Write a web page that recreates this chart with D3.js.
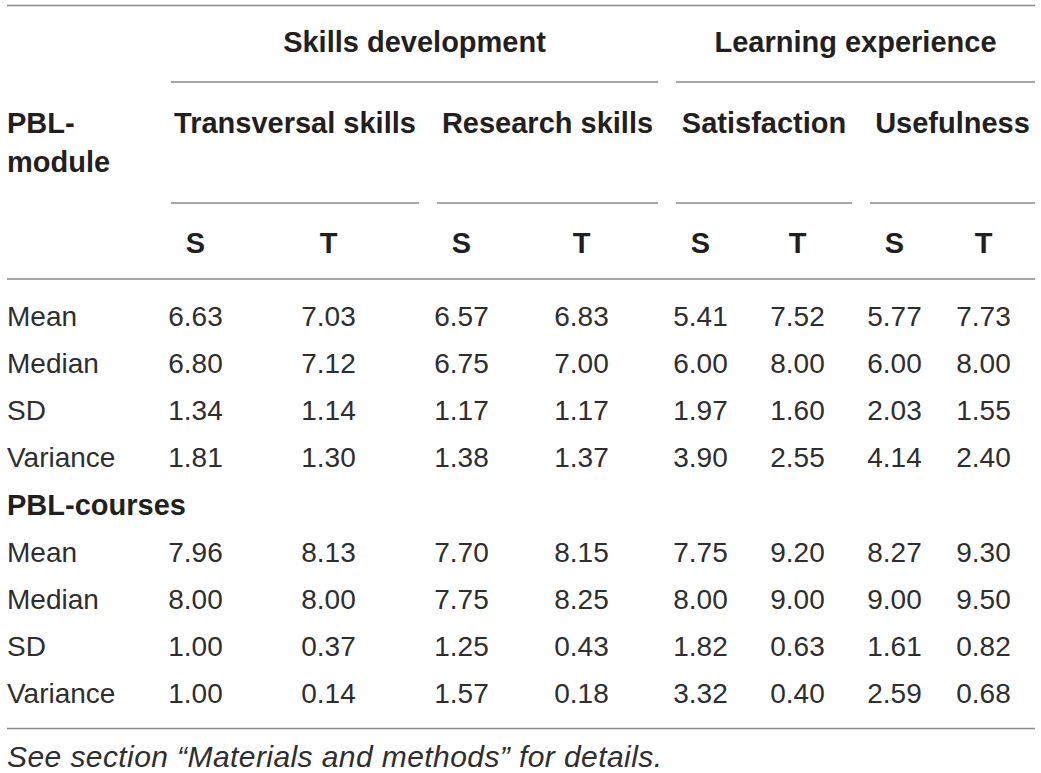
<!DOCTYPE html>
<html>
<head>
<meta charset="utf-8">
<script src="https://cdn.jsdelivr.net/npm/d3@7"></script>
<style>
body { margin: 0; background: #fff; }
svg { display: block; font-family: "Liberation Sans", Arial, Helvetica, sans-serif; }
</style>
</head>
<body>
<div id="table"></div>
<script>
// Table content
const groups = ["Skills development", "Learning experience"];
const subgroups = ["Transversal skills", "Research skills", "Satisfaction", "Usefulness"];
const raters = ["S", "T"];
const stats = ["Mean", "Median", "SD", "Variance"];
const sections = ["PBL-module", "PBL-courses"];
const moduleValues = [
  ["6.63", "7.03", "6.57", "6.83", "5.41", "7.52", "5.77", "7.73"],
  ["6.80", "7.12", "6.75", "7.00", "6.00", "8.00", "6.00", "8.00"],
  ["1.34", "1.14", "1.17", "1.17", "1.97", "1.60", "2.03", "1.55"],
  ["1.81", "1.30", "1.38", "1.37", "3.90", "2.55", "4.14", "2.40"]
];
const coursesValues = [
  ["7.96", "8.13", "7.70", "8.15", "7.75", "9.20", "8.27", "9.30"],
  ["8.00", "8.00", "7.75", "8.25", "8.00", "9.00", "9.00", "9.50"],
  ["1.00", "0.37", "1.25", "0.43", "1.82", "0.63", "1.61", "0.82"],
  ["1.00", "0.14", "1.57", "0.18", "3.32", "0.40", "2.59", "0.68"]
];
const footnote = "See section \u201cMaterials and methods\u201d for details.";

(function() {
const W = 1041, H = 773;
const left = 7, right = 1035;
const colStart = 168;
const colWidths = [133, 133, 120, 119, 97, 97, 89, 79];
const colLefts = [colStart, ...Array.from(d3.cumsum(colWidths), d => colStart + d)];
const textW = 55;          // width of a number like "6.63"
const fs = 28, fsBold = 29;
const ink = "#231f20", body = "#2e2e2e", rule = "#8a8a8a";

const svg = d3.select("#table").append("svg")
  .attr("width", W).attr("height", H);

// rows: section 1 stats, section 2 label, section 2 stats
const rows = [];
stats.forEach((s, i) => rows.push({ label: s, values: moduleValues[i] }));
rows.push({ label: sections[1], bold: true });
stats.forEach((s, i) => rows.push({ label: s, values: coursesValues[i] }));

const y = d3.scaleLinear().domain([0, rows.length - 1]).range([326, 703]);

function hline(x1, x2, yy) {
  svg.append("line").attr("x1", x1).attr("x2", x2).attr("y1", yy).attr("y2", yy)
    .attr("stroke", rule).attr("stroke-width", 1.6);
}

// horizontal rules
hline(left, right, 5.5);
hline(left, right, 279);
hline(left, right, 728.5);

// group headers (each spans 4 columns)
groups.forEach((g, i) => {
  const x1 = colLefts[i * 4] + 3;
  const x2 = i * 4 + 4 < colWidths.length ? colLefts[i * 4 + 4] - 15 : right;
  hline(x1, x2, 82);
  svg.append("text").attr("x", (x1 + x2) / 2).attr("y", 52)
    .attr("text-anchor", "middle").attr("font-size", fsBold).attr("font-weight", "bold")
    .attr("fill", ink).text(g);
});

// subgroup headers (each spans 2 columns)
subgroups.forEach((g, i) => {
  const x1 = colLefts[i * 2] + 3;
  const x2 = i * 2 + 2 < colWidths.length ? colLefts[i * 2 + 2] - 15 : right;
  hline(x1, x2, 203);
  svg.append("text").attr("x", (x1 + x2) / 2).attr("y", 133)
    .attr("text-anchor", "middle").attr("font-size", fsBold).attr("font-weight", "bold")
    .attr("fill", ink).text(g);
});

// S / T headers
colWidths.forEach((w, i) => {
  svg.append("text").attr("x", colLefts[i] + textW / 2).attr("y", 253)
    .attr("text-anchor", "middle").attr("font-size", fsBold).attr("font-weight", "bold")
    .attr("fill", ink).text(raters[i % 2]);
});

// first section label sits in header
const sec1 = sections[0].split("-");
const hdr = svg.append("text").attr("x", left).attr("y", 133)
  .attr("font-size", fsBold).attr("font-weight", "bold").attr("fill", ink);
hdr.append("tspan").attr("x", left).attr("dy", 0).text(sec1[0] + "-");
hdr.append("tspan").attr("x", left).attr("dy", 39).text(sec1[1]);

// body rows
const rowG = svg.selectAll(".row")
  .data(rows)
  .enter()
  .append("g")
  .attr("transform", (d, i) => `translate(0,${y(i)})`);

rowG.append("text")
  .attr("x", left)
  .attr("font-size", d => d.bold ? fsBold : fs)
  .attr("font-weight", d => d.bold ? "bold" : "normal")
  .attr("fill", d => d.bold ? ink : body)
  .text(d => d.label);

rowG.filter(d => d.values).selectAll(".cell")
  .data(d => d.values)
  .enter()
  .append("text")
  .attr("x", (d, i) => colLefts[i] + textW / 2)
  .attr("text-anchor", "middle")
  .attr("font-size", fs)
  .attr("fill", body)
  .text(d => d);

// footnote
svg.append("text").attr("x", left).attr("y", 767)
  .attr("font-size", 30).attr("font-style", "italic").attr("fill", body)
  .attr("textLength", 655).attr("lengthAdjust", "spacing")
  .text(footnote);
})();
</script>
</body>
</html>
